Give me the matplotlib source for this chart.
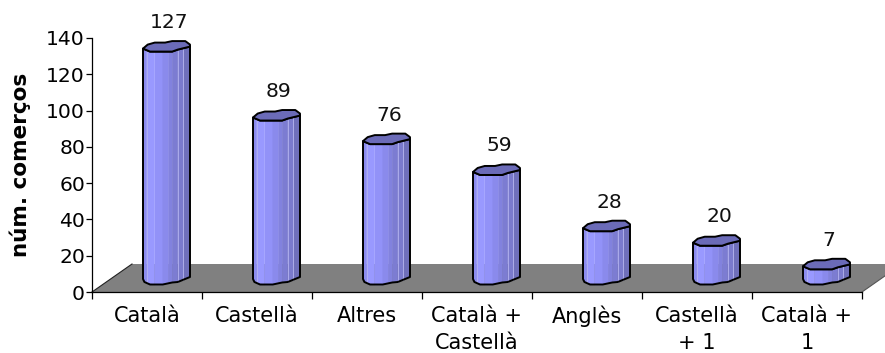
import matplotlib
matplotlib.use("Agg")
import matplotlib.pyplot as plt
from matplotlib.patches import Polygon

categories = ["Català", "Castellà", "Altres", "Català +\nCastellà", "Anglès", "Castellà\n+ 1", "Català +\n1"]
values = [127, 89, 76, 59, 28, 20, 7]
y_ticks = [0, 20, 40, 60, 80, 100, 120, 140]

W, H = 885, 353
fig = plt.figure(figsize=(W / 100, H / 100), dpi=100)
ax = fig.add_axes([92 / W, 1 - 292 / H, 770 / W, 254 / H])
ax.set_xlim(0, 7)
ax.set_ylim(0, 140)

# Conversion of the small 3D shape details from pixels to axis units
ux = 7 / 770
uy = 140 / 254

# Floor of the 3D scene, running past the figure's right edge
floor_h = 28 * uy
floor_d = 40 * ux
ax.add_patch(Polygon([(0, 0), (7, 0), (7 + floor_d, floor_h), (floor_d, floor_h)],
                     closed=True, fc="#808080", ec="none", zorder=1, clip_on=False))
ax.plot([0, floor_d], [0, floor_h], color="#222222", lw=0.8, zorder=1.5, clip_on=False)
ax.plot([7, 7 + floor_d], [0, floor_h], color="#555555", lw=0.8, zorder=1.5, clip_on=False)

# Faceted cylinder outline: (fraction of width, pixel offset below the left edge)
top_front = [(0, 0), (0.15, 3), (0.62, 3), (0.74, 1), (1, -2)]
top_back = [(1, -4), (0.9, -7.5), (0.62, -7.5), (0.47, -6), (0.25, -6), (0.1, -4)]
base_front = [(0, 0), (0.03, 3), (0.15, 5.5), (0.42, 5.5), (0.62, 3.5), (0.74, 3), (1, -2)]

facets = [0, 0.08, 0.25, 0.42, 0.55, 0.62, 0.74, 0.86, 1]
facet_colors = ["#8c8cf0", "#9999ff", "#9292f8", "#8a8aec", "#8282de", "#7c7cd2", "#7a7acd", "#6f6fbb"]
highlights = [0.08, 0.74, 0.86]


def profile(points, u):
    for (u0, d0), (u1, d1) in zip(points, points[1:]):
        if u0 <= u <= u1:
            return d0 + (d1 - d0) * (u - u0) / (u1 - u0)
    return points[-1][1]


bar_w = 47 * ux
base_y = 13 * uy
for i, v in enumerate(values):
    x0 = i + 51 * ux
    top_y = base_y + v
    # Side of the cylinder, one strip per facet
    for a, b, col in zip(facets, facets[1:], facet_colors):
        strip = [(x0 + a * bar_w, base_y - profile(base_front, a) * uy),
                 (x0 + b * bar_w, base_y - profile(base_front, b) * uy),
                 (x0 + b * bar_w, top_y - profile(top_front, b) * uy),
                 (x0 + a * bar_w, top_y - profile(top_front, a) * uy)]
        ax.add_patch(Polygon(strip, closed=True, fc=col, ec=col, lw=0.2, zorder=3, clip_on=False))
    # Pale seams between some facets
    for u in highlights:
        ax.plot([x0 + u * bar_w] * 2,
                [base_y - profile(base_front, u) * uy, top_y - profile(top_front, u) * uy],
                color="#b4b4f0", lw=0.6, zorder=3.5, clip_on=False)
    # Side outline
    outline = ([(x0 + u * bar_w, base_y - d * uy) for u, d in base_front]
               + [(x0 + u * bar_w, top_y - d * uy) for u, d in reversed(top_front)])
    ax.add_patch(Polygon(outline, closed=True, fc="none", ec="black", lw=1.4, zorder=4,
                         clip_on=False, joinstyle="round"))
    # Top cap
    cap = [(x0 + u * bar_w, top_y - d * uy) for u, d in top_front + top_back]
    ax.add_patch(Polygon(cap, closed=True, fc="#6b6bb8", ec="black", lw=1.4, zorder=5,
                         clip_on=False, joinstyle="round"))
    # Value label above the bar
    ax.text(x0 + 26 * ux, top_y + 26 * uy, str(v), ha="center", va="center",
            fontsize=14.6, color="#111111", zorder=6, clip_on=False)

# Axes, ticks and labels
for s in ("top", "right"):
    ax.spines[s].set_visible(False)
for s in ("left", "bottom"):
    ax.spines[s].set_linewidth(0.9)
    ax.spines[s].set_zorder(2)

ax.set_yticks(y_ticks)
ax.tick_params(axis="y", length=4, width=0.9, pad=1, labelsize=14.6)
ax.set_xticks(range(8))
ax.set_xticklabels([])
ax.set_xticks([i + 0.5 for i in range(7)], minor=True)
ax.set_xticklabels(categories, minor=True, fontsize=15, linespacing=1.42, va="top")
ax.tick_params(axis="x", which="major", length=5, width=0.9)
ax.tick_params(axis="x", which="minor", length=0, pad=10)

fig.text(20 / W, 1 - 165 / H, "núm. comerços", rotation=90, ha="center", va="center",
         fontsize=15.5, fontweight="bold")

fig.savefig("out.png", dpi=100)
